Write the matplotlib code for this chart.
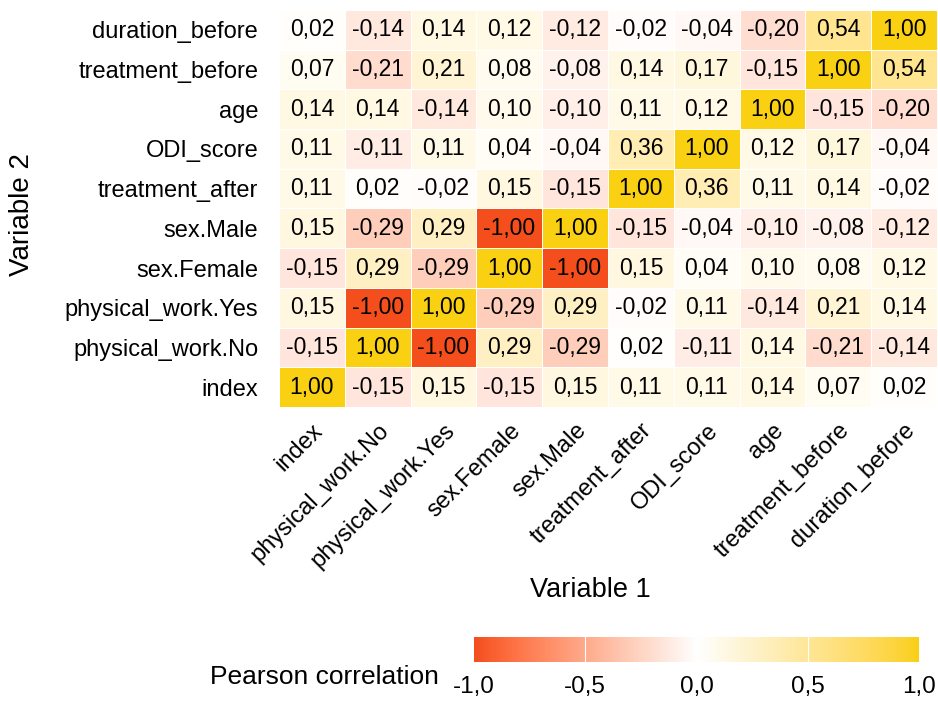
import matplotlib
matplotlib.use('Agg')
import matplotlib.pyplot as plt
import numpy as np
from matplotlib.colors import ListedColormap

plt.rcParams['font.family'] = ['Liberation Sans', 'DejaVu Sans']

# variables, in the order they run along both axes (bottom -> top on y)
variables = ['index', 'physical_work.No', 'physical_work.Yes', 'sex.Female', 'sex.Male',
             'treatment_after', 'ODI_score', 'age', 'treatment_before', 'duration_before']

# correlation values, one list per row (Variable 2), rows from bottom to top
r_index = [1.00, -0.15, 0.15, -0.15, 0.15, 0.11, 0.11, 0.14, 0.07, 0.02]
r_pw_no = [-0.15, 1.00, -1.00, 0.29, -0.29, 0.02, -0.11, 0.14, -0.21, -0.14]
r_pw_yes = [0.15, -1.00, 1.00, -0.29, 0.29, -0.02, 0.11, -0.14, 0.21, 0.14]
r_female = [-0.15, 0.29, -0.29, 1.00, -1.00, 0.15, 0.04, 0.10, 0.08, 0.12]
r_male = [0.15, -0.29, 0.29, -1.00, 1.00, -0.15, -0.04, -0.10, -0.08, -0.12]
r_treat_after = [0.11, 0.02, -0.02, 0.15, -0.15, 1.00, 0.36, 0.11, 0.14, -0.02]
r_odi = [0.11, -0.11, 0.11, 0.04, -0.04, 0.36, 1.00, 0.12, 0.17, -0.04]
r_age = [0.14, 0.14, -0.14, 0.10, -0.10, 0.11, 0.12, 1.00, -0.15, -0.20]
r_treat_before = [0.07, -0.21, 0.21, 0.08, -0.08, 0.14, 0.17, -0.15, 1.00, 0.54]
r_duration = [0.02, -0.14, 0.14, 0.12, -0.12, -0.02, -0.04, -0.20, 0.54, 1.00]

corr = np.array([r_index, r_pw_no, r_pw_yes, r_female, r_male,
                 r_treat_after, r_odi, r_age, r_treat_before, r_duration])

cbar_ticks = [-1.0, -0.5, 0.0, 0.5, 1.0]


# diverging gradient interpolated in CIELAB, like ggplot's scale_fill_gradient2
M = np.array([[0.4124, 0.3576, 0.1805],
              [0.2126, 0.7152, 0.0722],
              [0.0193, 0.1192, 0.9505]])
WHITE = M.sum(axis=1)


def to_lab(hexcol):
	rgb = np.array(matplotlib.colors.to_rgb(hexcol))
	lin = np.where(rgb <= 0.04045, rgb / 12.92, ((rgb + 0.055) / 1.055) ** 2.4)
	xyz = M @ lin / WHITE
	f = np.where(xyz > 0.008856, np.cbrt(xyz), 7.787 * xyz + 16 / 116)
	return np.array([116 * f[1] - 16, 500 * (f[0] - f[1]), 200 * (f[1] - f[2])])


def from_lab(lab):
	fy = (lab[0] + 16) / 116
	f = np.array([fy + lab[1] / 500, fy, fy - lab[2] / 200])
	xyz = np.where(f ** 3 > 0.008856, f ** 3, (f - 16 / 116) / 7.787) * WHITE
	lin = np.linalg.solve(M, xyz)
	lin = np.clip(lin, 0, 1)
	rgb = np.where(lin <= 0.0031308, 12.92 * lin, 1.055 * lin ** (1 / 2.4) - 0.055)
	return np.clip(rgb, 0, 1)


low, mid, high = to_lab('#F44E1C'), to_lab('#FFFFFF'), to_lab('#F9D012')
cols = []
for t in np.linspace(-1, 1, 256):
	if t < 0:
		cols.append(from_lab(mid + (low - mid) * (-t)))
	else:
		cols.append(from_lab(mid + (high - mid) * t))
cmap = ListedColormap(cols)

fig = plt.figure(figsize=(9.38, 7.03), dpi=100)
ax = fig.add_axes([279 / 938, 1 - 407 / 703, 658 / 938, 397 / 703])

n = len(variables)
ax.pcolormesh(np.arange(n + 1) - 0.5, np.arange(n + 1) - 0.5, corr, cmap=cmap,
              vmin=-1, vmax=1, edgecolors='white', linewidth=0.6)

for i in range(n):
	for j in range(n):
		ax.text(j, i, f'{corr[i, j]:.2f}'.replace('.', ','), ha='center', va='center',
		        fontsize=16.5, color='black')

ax.set_xlim(-0.5, n - 0.5)
ax.set_ylim(-0.5, n - 0.5)
ax.set_xticks(range(n))
ax.set_yticks(range(n))
ax.set_xticklabels(variables, rotation=45, ha='right', va='top', rotation_mode='anchor', fontsize=17)
ax.set_yticklabels(variables, fontsize=17)
ax.tick_params(axis='y', length=0, pad=15)
ax.tick_params(axis='x', length=0, pad=9)
for s in ax.spines.values():
	s.set_visible(False)

fig.text(590 / 938, 1 - 590 / 703, 'Variable 1', ha='center', va='center', fontsize=19.5)
fig.text(22 / 938, 1 - 215 / 703, 'Variable 2', ha='center', va='center', fontsize=20, rotation=90)

# colour bar at the bottom
cax = fig.add_axes([474 / 938, 1 - 662 / 703, 445 / 938, 25 / 703])
grad = np.linspace(-1, 1, 512).reshape(1, -1)
cax.imshow(grad, cmap=cmap, vmin=-1, vmax=1, aspect='auto', extent=[-1, 1, 0, 1])
for t in cbar_ticks[1:-1]:
	cax.axvline(t, color='white', linewidth=0.8)
cax.set_xlim(-1, 1)
cax.set_yticks([])
cax.set_xticks(cbar_ticks)
cax.set_xticklabels([f'{t:.1f}'.replace('.', ',') for t in cbar_ticks], fontsize=17.5)
cax.tick_params(length=0, pad=10)
for s in cax.spines.values():
	s.set_visible(False)

fig.text(324 / 938, 1 - 677 / 703, 'Pearson correlation', ha='center', va='center', fontsize=19)

plt.savefig('out.png', dpi=100, facecolor='white')
